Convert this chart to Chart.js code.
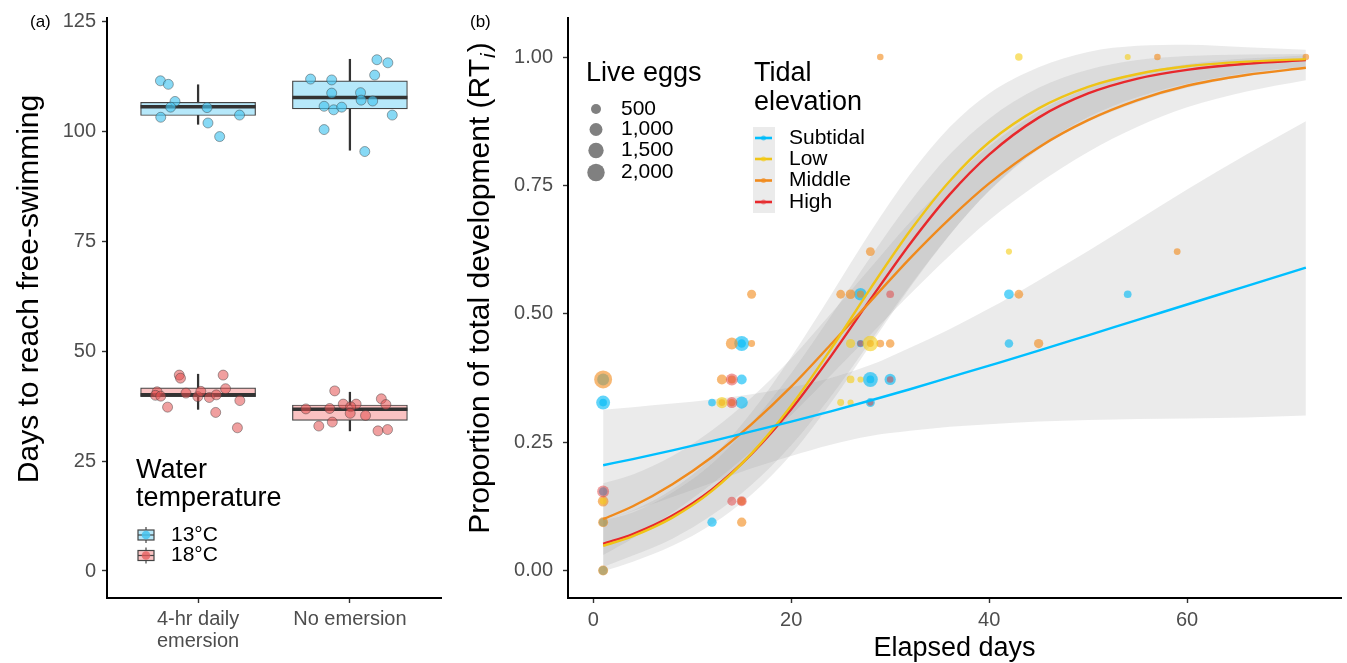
<!DOCTYPE html>
<html>
<head>
<meta charset="utf-8">
<title>Emersion, temperature and development</title>
<script src="https://cdn.jsdelivr.net/npm/chart.js@4.4.1/dist/chart.umd.min.js"></script>
<style>
  html, body { margin: 0; padding: 0; background: #fff; }
  #wrap { position: relative; width: 1347px; height: 663px; overflow: hidden; }
  #boxChart { position: absolute; left: 0; top: 0; }
  #curveChart { position: absolute; left: 450px; top: 0; }
</style>
</head>
<body>
<div id="wrap">
  <canvas id="boxChart" width="450" height="663"></canvas>
  <canvas id="curveChart" width="897" height="663"></canvas>
</div>
<script>
const FONT = "'Liberation Sans', Arial, sans-serif";
Chart.defaults.font.family = FONT;
Chart.defaults.animation = false;

// ---------- panel (a) data ----------
const treatmentLabels = [['4-hr daily', 'emersion'], ['No emersion']];
const daysTicks = [0, 25, 50, 75, 100, 125];
const tempLabels = ['13°C', '18°C'];
// [lower whisker, Q1, median, Q3, upper whisker], one row per treatment
const box13 = [[101.7, 103.7, 105.7, 106.7, 110.7], [95.8, 105.2, 107.8, 111.6, 116.5]];
const box18 = [[36.8, 39.7, 40.1, 41.7, 44.8], [31.9, 34.3, 36.8, 37.8, 40.7]];
// jittered observations: [treatment position, days]
const obs13 = [
  [0.752, 111.6], [0.804, 110.8], [0.848, 106.9], [0.819, 105.6], [0.754, 103.3],
  [1.059, 105.5], [1.065, 102.0], [1.142, 98.9], [1.273, 103.8],
  [1.741, 112.0], [1.880, 111.8], [2.178, 116.4], [2.250, 115.7], [2.163, 112.9],
  [1.880, 108.8], [2.070, 108.9], [2.074, 107.2], [2.150, 107.0], [1.830, 105.8],
  [1.893, 105.0], [1.946, 105.6], [2.279, 103.8], [1.830, 100.5], [2.098, 95.5]
];
const obs18 = [
  [0.876, 44.6], [0.884, 43.9], [0.730, 40.8], [0.719, 40.0], [0.754, 39.8],
  [0.799, 37.3], [0.920, 40.5], [0.998, 39.7], [1.018, 40.9], [1.074, 39.5],
  [1.120, 40.1], [1.116, 36.1], [1.165, 44.6], [1.181, 41.5], [1.275, 38.8], [1.259, 32.6],
  [1.900, 41.0], [1.710, 36.9], [1.867, 37.0], [1.956, 38.0], [2.041, 38.0],
  [2.005, 37.4], [2.002, 35.9], [2.103, 35.4], [1.884, 33.9], [1.795, 33.0],
  [2.207, 39.2], [2.237, 37.9], [2.185, 31.9], [2.248, 32.2]
];

// ---------- panel (b) data ----------
const dayTicks = [0, 20, 40, 60];
const propTicks = [0, 0.25, 0.5, 0.75, 1];
const elevations = ['Subtidal', 'Low', 'Middle', 'High'];
const eggBreaks = [500, 1000, 1500, 2000];
const fitDays = [1, 4, 8, 12, 16, 20, 24, 28, 32, 36, 40, 45, 50, 55, 60, 66, 72];
const fitSubtidal = [0.205, 0.217, 0.234, 0.252, 0.271, 0.290, 0.310, 0.331, 0.353, 0.376, 0.399, 0.428, 0.458, 0.488, 0.518, 0.554, 0.590];
const loSubtidal = [0.097, 0.116, 0.143, 0.171, 0.199, 0.223, 0.245, 0.262, 0.272, 0.280, 0.285, 0.290, 0.293, 0.295, 0.296, 0.298, 0.302];
const hiSubtidal = [0.313, 0.318, 0.325, 0.333, 0.343, 0.357, 0.375, 0.400, 0.434, 0.470, 0.510, 0.565, 0.622, 0.682, 0.742, 0.810, 0.875];
const fitLow = [0.048, 0.067, 0.103, 0.155, 0.228, 0.321, 0.431, 0.549, 0.661, 0.758, 0.834, 0.900, 0.942, 0.967, 0.982, 0.991, 0.996];
const loLow = [-0.002, 0.017, 0.048, 0.090, 0.148, 0.226, 0.326, 0.439, 0.551, 0.653, 0.739, 0.820, 0.874, 0.912, 0.940, 0.963, 0.978];
const hiLow = [0.098, 0.117, 0.158, 0.220, 0.308, 0.416, 0.536, 0.659, 0.771, 0.863, 0.929, 0.980, 1.010, 1.022, 1.024, 1.019, 1.014];
const fitMiddle = [0.100, 0.125, 0.168, 0.221, 0.285, 0.358, 0.440, 0.524, 0.608, 0.685, 0.754, 0.824, 0.877, 0.916, 0.944, 0.965, 0.979];
const loMiddle = [0.030, 0.063, 0.113, 0.169, 0.233, 0.303, 0.380, 0.459, 0.538, 0.613, 0.682, 0.754, 0.815, 0.864, 0.902, 0.933, 0.955];
const hiMiddle = [0.170, 0.187, 0.223, 0.273, 0.337, 0.413, 0.500, 0.589, 0.678, 0.757, 0.826, 0.894, 0.939, 0.968, 0.986, 0.997, 1.003];
const fitHigh = [0.052, 0.071, 0.107, 0.158, 0.227, 0.314, 0.417, 0.528, 0.636, 0.732, 0.810, 0.882, 0.929, 0.958, 0.975, 0.987, 0.994];
const loHigh = [0.007, 0.029, 0.062, 0.108, 0.167, 0.244, 0.339, 0.446, 0.554, 0.654, 0.740, 0.824, 0.883, 0.922, 0.948, 0.969, 0.982];
const hiHigh = [0.097, 0.113, 0.152, 0.208, 0.287, 0.384, 0.495, 0.610, 0.718, 0.810, 0.880, 0.940, 0.975, 0.994, 1.002, 1.005, 1.006];
// observations: [elapsed day, proportion of development, live eggs]
const eggsSubtidal = [
  [1, 0.372, 820], [1, 0.327, 1200], [1, 0.327, 200], [1, 0.154, 300], [1, 0.094, 300], [1, 0, 350],
  [12, 0.327, 200], [12, 0.094, 400], [15, 0.442, 1400], [15, 0.442, 300], [15, 0.372, 500], [15, 0.327, 850],
  [27, 0.538, 900], [27, 0.442, 150], [28, 0.372, 1400], [28, 0.372, 200], [30, 0.372, 700], [28, 0.327, 350],
  [42, 0.538, 450], [42, 0.442, 300], [54, 0.538, 200]
];
const eggsLow = [
  [1, 0.135, 100], [13, 0.327, 700], [26, 0.442, 380], [28, 0.442, 1550], [26, 0.372, 200], [27, 0.372, 40],
  [25, 0.327, 120], [26, 0.327, 40], [42, 0.621, 40], [43, 1, 180], [54, 1, 30]
];
const eggsMiddle = [
  [1, 0.372, 2150], [1, 0.135, 600], [1, 0.094, 500], [1, 0, 500],
  [13, 0.372, 500], [13, 0.327, 100], [14, 0.372, 250], [14, 0.327, 150], [14, 0.442, 800],
  [15, 0.135, 250], [15, 0.094, 400], [16, 0.538, 360], [16, 0.442, 120],
  [25, 0.538, 330], [26, 0.538, 450], [27, 0.538, 150], [28, 0.621, 350], [28, 0.442, 120],
  [29, 0.442, 200], [30, 0.442, 300], [29, 1, 80], [43, 0.538, 330], [45, 0.442, 400],
  [57, 1, 80], [59, 0.621, 100], [72, 1, 80]
];
const eggsHigh = [
  [1, 0.154, 820], [14, 0.372, 800], [14, 0.327, 650], [14, 0.135, 350], [15, 0.135, 500],
  [30, 0.538, 200], [27, 0.442, 60], [28, 0.327, 50], [30, 0.372, 80]
];

// ---------- shared helpers ----------
const eggRadius = eggs => Math.sqrt(8.1 + 0.0338 * eggs);
const toPoints = (xs, ys) => xs.map((x, i) => ({ x, y: ys[i] }));
const fixedTicks = values => scale => { scale.ticks = values.map(v => ({ value: v })); };
const axisGrid = { display: true, offset: false, drawOnChartArea: false, drawTicks: true, tickLength: 5, tickColor: '#333', tickWidth: 1.4 };
const axisBorder = { display: true, color: '#000', width: 2 };
const tickFont = { size: 20, lineHeight: 1.1 };
// fixed axis boxes so the plot panels land where the figure has them
const fixHeight = h => s => { s.height = h; s.paddingLeft = 0; s.paddingRight = 0; };
const fixWidth = w => s => { s.width = w; s.paddingTop = 0; s.paddingBottom = 0; };

// ---------- panel (a): boxplots ----------
function boxDatasets(stats, fill, order) {
  return [
    { type: 'bar', data: stats.map((s, i) => ({ x: i + 1, y: [s[0], s[4]] })),
      backgroundColor: '#333', barThickness: 1.6, grouped: false, order: order + 2 },
    { type: 'bar', data: stats.map((s, i) => ({ x: i + 1, y: [s[1], s[3]] })),
      backgroundColor: fill, borderColor: '#444', borderWidth: 1.2, borderSkipped: false,
      barThickness: 115, grouped: false, order: order + 1 },
    { type: 'scatter', data: stats.map((s, i) => ({ x: i + 1, y: s[2] })),
      pointStyle: 'line', pointRadius: 57.5, pointBorderColor: '#333', pointBorderWidth: 3.5, order: order }
  ];
}

const boxNotes = {
  id: 'boxNotes',
  afterDraw(chart) {
    const ctx = chart.ctx;
    ctx.save();
    ctx.fillStyle = '#000';
    ctx.font = '17px ' + FONT;
    ctx.textBaseline = 'middle';
    ctx.fillText('(a)', 30, 22);

    // legend
    ctx.textBaseline = 'alphabetic';
    ctx.font = '27px ' + FONT;
    ctx.fillText('Water', 136, 478);
    ctx.fillText('temperature', 136, 506);
    const keys = [
      { y: 535, box: 'rgb(182,232,250)', pt: 'rgba(70,196,240,0.85)' },
      { y: 555.5, box: 'rgb(250,194,194)', pt: 'rgba(228,90,90,0.75)' }
    ];
    keys.forEach((k, i) => {
      ctx.strokeStyle = '#444';
      ctx.lineWidth = 1.2;
      ctx.beginPath(); ctx.moveTo(146, k.y - 8); ctx.lineTo(146, k.y + 8); ctx.stroke();
      ctx.fillStyle = k.box;
      ctx.fillRect(138, k.y - 5, 16, 10);
      ctx.strokeRect(138, k.y - 5, 16, 10);
      ctx.beginPath(); ctx.moveTo(138, k.y); ctx.lineTo(154, k.y); ctx.stroke();
      ctx.fillStyle = k.pt;
      ctx.beginPath(); ctx.arc(146, k.y, 4.3, 0, Math.PI * 2); ctx.fill();
      ctx.fillStyle = '#000';
      ctx.font = '21px ' + FONT;
      ctx.textBaseline = 'middle';
      ctx.fillText(tempLabels[i], 171, k.y);
      ctx.textBaseline = 'alphabetic';
    });

    // y title
    ctx.font = '30px ' + FONT;
    ctx.textAlign = 'center';
    ctx.translate(38, 289);
    ctx.rotate(-Math.PI / 2);
    ctx.fillText('Days to reach free-swimming', 0, 0);
    ctx.restore();
  }
};

new Chart(document.getElementById('boxChart'), {
  type: 'bar',
  data: {
    datasets: [
      { type: 'scatter', data: obs13.map(([x, y]) => ({ x, y })), pointRadius: 5,
        pointBackgroundColor: 'rgba(70,196,240,0.65)', pointBorderColor: 'rgba(60,60,60,0.45)', pointBorderWidth: 1, order: 0 },
      { type: 'scatter', data: obs18.map(([x, y]) => ({ x, y })), pointRadius: 5,
        pointBackgroundColor: 'rgba(228,80,80,0.55)', pointBorderColor: 'rgba(60,60,60,0.45)', pointBorderWidth: 1, order: 0 },
      ...boxDatasets(box13, 'rgb(182,232,250)', 10),
      ...boxDatasets(box18, 'rgb(250,194,194)', 20)
    ]
  },
  options: {
    responsive: false,
    events: [],
    layout: { autoPadding: false, padding: { left: 0, top: 18, right: 9, bottom: 0 } },
    plugins: { legend: { display: false }, tooltip: { enabled: false } },
    scales: {
      x: {
        type: 'linear', min: 0.4, max: 2.6, offset: false,
        afterBuildTicks: fixedTicks([1, 2]),
        afterFit: fixHeight(65),
        grid: axisGrid, border: axisBorder,
        ticks: { color: '#4d4d4d', font: tickFont, padding: 5, maxRotation: 0, autoSkip: false,
                 callback: (v, i) => treatmentLabels[i] }
      },
      y: {
        type: 'linear', min: -6.15, max: 125.9,
        afterBuildTicks: fixedTicks(daysTicks),
        afterFit: fixWidth(107),
        grid: axisGrid, border: axisBorder,
        ticks: { color: '#4d4d4d', font: tickFont, padding: 6 }
      }
    }
  },
  plugins: [boxNotes]
});

// ---------- panel (b): development curves ----------
const palette = {
  Subtidal: { line: '#00bfff', dot: 'rgba(0,185,245,0.62)' },
  Low: { line: '#efc417', dot: 'rgba(245,205,20,0.6)' },
  Middle: { line: '#f08a1c', dot: 'rgba(242,140,30,0.62)' },
  High: { line: '#e8282c', dot: 'rgba(225,60,60,0.5)' }
};
const ribbonFill = 'rgba(153,153,153,0.2)';
const fits = { Subtidal: fitSubtidal, Low: fitLow, Middle: fitMiddle, High: fitHigh };
const bands = {
  Subtidal: [loSubtidal, hiSubtidal], Low: [loLow, hiLow],
  Middle: [loMiddle, hiMiddle], High: [loHigh, hiHigh]
};
const eggs = { Subtidal: eggsSubtidal, Low: eggsLow, Middle: eggsMiddle, High: eggsHigh };

const curveSets = [];
elevations.forEach(name => {
  curveSets.push(
    { type: 'line', data: toPoints(fitDays, bands[name][0]), borderWidth: 0, pointRadius: 0,
      fill: false, cubicInterpolationMode: 'monotone', order: 30 },
    { type: 'line', data: toPoints(fitDays, bands[name][1]), borderWidth: 0, pointRadius: 0,
      fill: '-1', backgroundColor: ribbonFill, cubicInterpolationMode: 'monotone', order: 30 }
  );
});
['Low', 'High', 'Middle', 'Subtidal'].forEach(name => {
  curveSets.push({
    type: 'scatter', data: eggs[name].map(([x, y, n]) => ({ x, y, eggs: n })),
    pointRadius: c => eggRadius(c.raw.eggs), pointBackgroundColor: palette[name].dot,
    pointBorderWidth: 0, order: 10
  });
});
elevations.forEach(name => {
  curveSets.push({
    type: 'line', data: toPoints(fitDays, fits[name]), borderColor: palette[name].line,
    borderWidth: 2.4, pointRadius: 0, fill: false, cubicInterpolationMode: 'monotone', order: 0
  });
});

const curveNotes = {
  id: 'curveNotes',
  afterDraw(chart) {
    const ctx = chart.ctx;
    const a = chart.chartArea;
    ctx.save();
    ctx.fillStyle = '#000';
    ctx.font = '17px ' + FONT;
    ctx.textBaseline = 'middle';
    ctx.fillText('(b)', 20, 22);

    // size legend
    ctx.textBaseline = 'alphabetic';
    ctx.font = '27px ' + FONT;
    ctx.fillText('Live eggs', 136, 81);
    const sizeRows = [109, 129.5, 150.5, 172.5];
    ctx.font = '21px ' + FONT;
    eggBreaks.forEach((v, i) => {
      ctx.fillStyle = '#808080';
      ctx.beginPath(); ctx.arc(146, sizeRows[i], eggRadius(v), 0, Math.PI * 2); ctx.fill();
      ctx.fillStyle = '#000';
      ctx.textBaseline = 'middle';
      ctx.fillText(v.toLocaleString('en-US'), 171, sizeRows[i]);
    });

    // colour legend
    ctx.textBaseline = 'alphabetic';
    ctx.font = '27px ' + FONT;
    ctx.fillText('Tidal', 304, 81);
    ctx.fillText('elevation', 304, 110);
    const keyRows = [138, 159, 180.5, 202];
    ctx.fillStyle = '#ebebeb';
    ctx.fillRect(303, 127, 22, 86);
    ctx.font = '21px ' + FONT;
    elevations.forEach((name, i) => {
      ctx.strokeStyle = palette[name].line;
      ctx.lineWidth = 2.6;
      ctx.beginPath(); ctx.moveTo(305, keyRows[i]); ctx.lineTo(322, keyRows[i]); ctx.stroke();
      ctx.fillStyle = palette[name].dot;
      ctx.beginPath(); ctx.arc(313.5, keyRows[i], 2.5, 0, Math.PI * 2); ctx.fill();
      ctx.fillStyle = '#000';
      ctx.textBaseline = 'middle';
      ctx.fillText(name, 339, keyRows[i]);
    });

    // axis titles
    ctx.textBaseline = 'alphabetic';
    ctx.textAlign = 'center';
    ctx.font = '27px ' + FONT;
    ctx.fillText('Elapsed days', (a.left + a.right) / 2, 656);

    const head = 'Proportion of total development (RT';
    ctx.font = '30px ' + FONT;
    const w1 = ctx.measureText(head).width;
    const w3 = ctx.measureText(')').width;
    ctx.font = 'italic 21px ' + FONT;
    const w2 = ctx.measureText('i').width;
    ctx.translate(39, 289);
    ctx.rotate(-Math.PI / 2);
    ctx.textAlign = 'left';
    let x = -(w1 + w2 + w3) / 2;
    ctx.font = '30px ' + FONT;
    ctx.fillText(head, x, 0);
    x += w1;
    ctx.font = 'italic 21px ' + FONT;
    ctx.fillText('i', x + 1, 6);
    x += w2 + 2;
    ctx.font = '30px ' + FONT;
    ctx.fillText(')', x, 0);
    ctx.restore();
  }
};

new Chart(document.getElementById('curveChart'), {
  type: 'line',
  data: { datasets: curveSets },
  options: {
    responsive: false,
    events: [],
    layout: { autoPadding: false, padding: { left: 0, top: 18, right: 6, bottom: 0 } },
    plugins: { legend: { display: false }, tooltip: { enabled: false }, filler: { propagate: false } },
    scales: {
      x: {
        type: 'linear', min: -2.55, max: 75.55,
        afterBuildTicks: fixedTicks(dayTicks),
        afterFit: fixHeight(65),
        grid: axisGrid, border: axisBorder,
        ticks: { color: '#4d4d4d', font: tickFont, padding: 6 }
      },
      y: {
        type: 'linear', min: -0.0536, max: 1.076,
        afterBuildTicks: fixedTicks(propTicks),
        afterFit: fixWidth(118),
        grid: axisGrid, border: axisBorder,
        ticks: { color: '#4d4d4d', font: tickFont, padding: 10, callback: v => v.toFixed(2) }
      }
    }
  },
  plugins: [curveNotes]
});
</script>
</body>
</html>
